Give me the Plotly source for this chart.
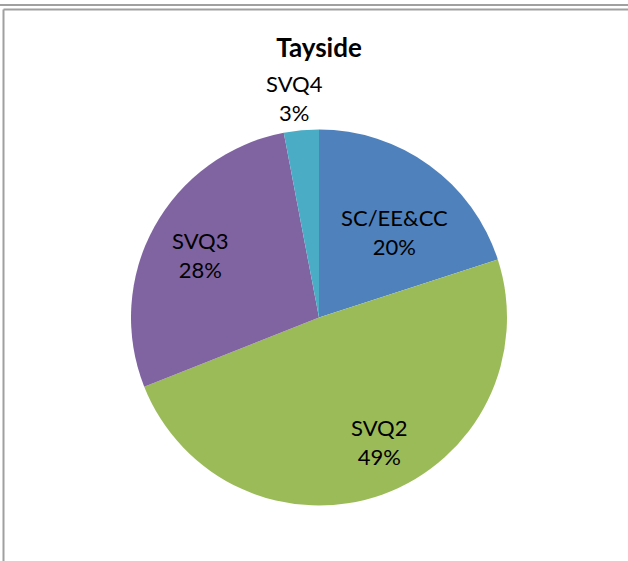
import math
import plotly.graph_objects as go

categories = ["SC/EE&CC", "SVQ2", "SVQ3", "SVQ4"]
values = [20, 49, 28, 3]
title_text = "Tayside"

colors = ["#4F81BD", "#9BBB59", "#8064A2", "#4BACC6"]
# label placement: fraction of the way through each slice, and radius fraction
label_angle_frac = [0.574, 0.467, 0.49, 0.4]
label_radius_frac = [0.606, 0.734, 0.713, 1.176]

W, H = 628, 561
cx, cy, R = 319, 317.5, 188
FONT = "Lato, Open Sans, sans-serif"

total = sum(values)
annotations = []
cum = 0.0
for cat, v, af, rf in zip(categories, values, label_angle_frac, label_radius_frac):
    theta = 2 * math.pi * (cum + af * v) / total
    annotations.append(dict(
        x=rf * math.sin(theta), y=rf * math.cos(theta),
        xref="x", yref="y",
        text=f"{cat}<br>{round(100 * v / total)}%",
        showarrow=False, xanchor="center", yanchor="middle",
        font=dict(family=FONT, size=22, color="black"),
    ))
    cum += v

fig = go.Figure()
fig.add_trace(go.Pie(
    labels=categories,
    values=values,
    sort=False,
    direction="clockwise",
    rotation=0,
    marker=dict(colors=colors, line=dict(width=0)),
    textinfo="none",
    showlegend=False,
    domain=dict(x=[(cx - R) / W, (cx + R) / W],
                y=[(H - cy - R) / H, (H - cy + R) / H]),
    hoverinfo="label+percent",
))
# invisible trace to establish the cartesian axes used to place the labels
fig.add_trace(go.Scatter(x=[0], y=[0], mode="markers", marker=dict(opacity=0),
                         showlegend=False, hoverinfo="skip"))

fig.update_layout(
    width=W, height=H,
    margin=dict(l=0, r=0, t=0, b=0),
    paper_bgcolor="white",
    plot_bgcolor="rgba(0,0,0,0)",
    xaxis=dict(range=[-cx / R, (W - cx) / R], visible=False, fixedrange=True),
    yaxis=dict(range=[-(H - cy) / R, cy / R], visible=False, fixedrange=True),
    title=dict(text="<b>" + title_text + "</b>", x=cx / W, y=1 - 48 / H,
               xanchor="center", yanchor="middle",
               font=dict(family=FONT, size=26, color="black")),
    annotations=annotations,
    shapes=[
        dict(type="line", xref="paper", yref="paper", x0=0, x1=1,
             y0=1 - 5 / H, y1=1 - 5 / H, line=dict(color="#A0A0A0", width=2)),
        dict(type="line", xref="paper", yref="paper", x0=3.5 / W, x1=1,
             y0=1 - 9.5 / H, y1=1 - 9.5 / H, line=dict(color="#A0A0A0", width=2)),
        dict(type="line", xref="paper", yref="paper", x0=3.5 / W, x1=3.5 / W,
             y0=0, y1=1 - 9.5 / H, line=dict(color="#A0A0A0", width=2)),
    ],
)

fig.write_html("out.html", config={"displayModeBar": False},
               post_script="document.body.style.margin='0';")
